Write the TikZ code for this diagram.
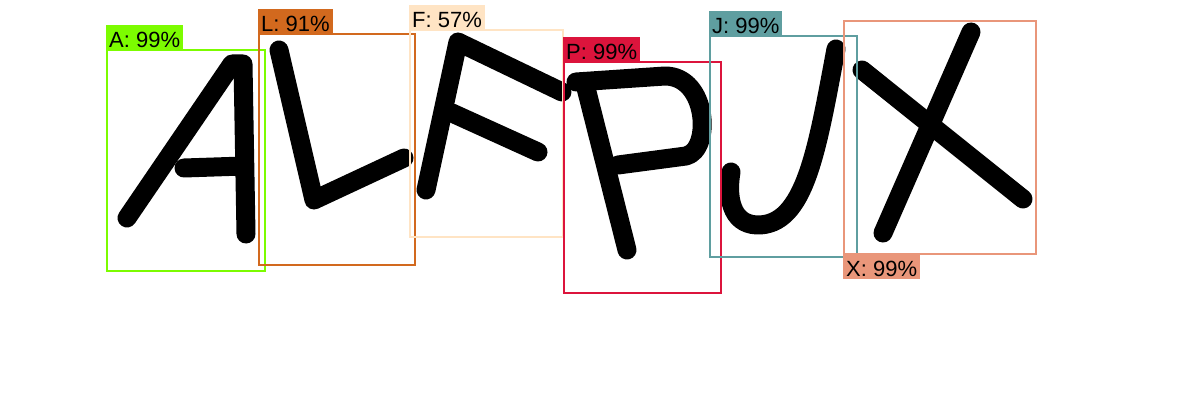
\documentclass[tikz,border=0pt]{standalone}
\usepackage{fontspec}
\setmainfont{Liberation Sans}
\usetikzlibrary{positioning}
\definecolor{colA}{HTML}{7CFC00}
\definecolor{colL}{HTML}{D2691E}
\definecolor{colF}{HTML}{FFE4C4}
\definecolor{colP}{HTML}{DC143C}
\definecolor{colJ}{HTML}{5F9EA0}
\definecolor{colX}{HTML}{E9967A}
\tikzset{pen/.style = {draw=black, line width=19pt, line cap=round, line join=round},
         box/.style = {line width=2pt},
         tag/.style = {inner xsep=3pt, inner ysep=1pt, text height=22pt, text depth=2pt,
                       font=\fontsize{22}{24}\selectfont}}

\begin{document}
\begin{tikzpicture}[x=1pt, y=-1pt]
    \useasboundingbox (0, 0) rectangle (1200, 420);
    \draw [pen] (127, 218) -- (232, 64) -- (243, 64) -- (246, 234);
    \draw [pen] (184, 168) -- (244, 166);
    \draw [pen] (279, 50) -- (314, 200) -- (404, 158);
    \draw [pen] (426, 190) -- (458, 42) -- (562, 92);
    \draw [pen] (452, 113) -- (538, 152);
    \draw [pen] (627, 250) -- (585, 84);
    \draw [pen] (576, 82) -- (665, 76) .. controls (708, 76) and (712, 150) .. (686, 156) -- (618, 165);
    \draw [pen] (836, 49) .. controls (817, 150) and (805, 226) .. (757, 225) .. controls (730, 224) and (727, 195) .. (731, 172);
    \draw [pen] (971, 32) -- (883, 233);
    \draw [pen] (862, 70) -- (1023, 199);
    \draw [box, colA] (107, 50) rectangle (265, 271);
    \draw [box, colL] (259, 34) rectangle (415, 265);
    \draw [box, colF] (410, 30) rectangle (563, 237);
    \draw [box, colP] (564, 62) rectangle (721, 293);
    \draw [box, colJ] (710, 36) rectangle (857, 257);
    \draw [box, colX] (844, 21) rectangle (1036, 254);
    \node (tagA) [tag, fill=colA, anchor=south west] at (106, 51) {A: 99\%};
    \node (tagL) [tag, fill=colL, anchor=south west] at (258, 35) {L: 91\%};
    \node (tagF) [tag, fill=colF, anchor=south west] at (409, 31) {F: 57\%};
    \node (tagP) [tag, fill=colP, anchor=south west] at (563, 63) {P: 99\%};
    \node (tagJ) [tag, fill=colJ, anchor=south west] at (709, 37) {J: 99\%};
    \node (tagX) [tag, fill=colX, anchor=north west] at (843, 253) {X: 99\%};
\end{tikzpicture}
\end{document}
